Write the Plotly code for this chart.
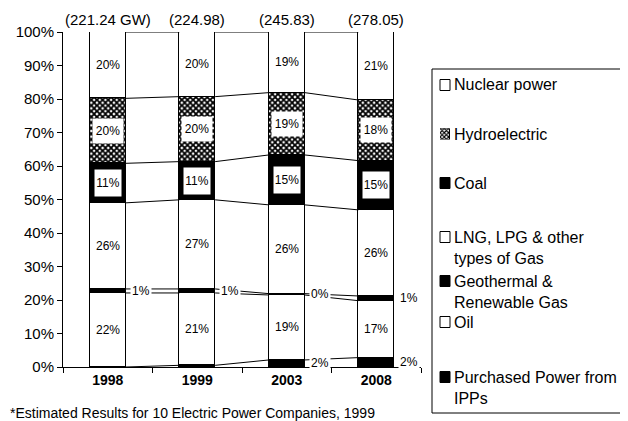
import plotly.graph_objects as go

# The page body has an 8px margin, so the figure is drawn 8px in from the window corner.
OFF = 8
W, H = 628 - OFF, 421 - OFF
FONT = "Liberation Sans, Arial, sans-serif"

years = ["1998", "1999", "2003", "2008"]
totals = ["(221.24 GW)", "(224.98)", "(245.83)", "(278.05)"]
y_ticks = list(range(0, 101, 10))
y_tick_labels = ["%d%%" % v for v in y_ticks]

# shares (%), bottom to top
ipp = [0.0, 0.5, 2.1, 2.8]
oil = [22.1, 21.6, 19.4, 17.0]
geo = [1.2, 1.2, 0.4, 1.4]
lng = [25.7, 26.6, 26.5, 25.7]
coal = [11.8, 11.4, 14.9, 14.7]
hydro = [19.4, 19.4, 18.6, 18.1]
nuclear = [19.8, 19.3, 18.1, 20.3]

ipp_lbl = ["", "", "2%", "2%"]
oil_lbl = ["22%", "21%", "19%", "17%"]
geo_lbl = ["1%", "1%", "0%", "1%"]
lng_lbl = ["26%", "27%", "26%", "26%"]
coal_lbl = ["11%", "11%", "15%", "15%"]
hydro_lbl = ["20%", "20%", "19%", "18%"]
nuclear_lbl = ["20%", "20%", "19%", "21%"]

HATCH = dict(shape="x", fgcolor="black", bgcolor="white", size=4, solidity=0.7)

series = [
    ("Purchased Power from IPPs", ipp, "black", None),
    ("Oil", oil, "white", None),
    ("Geothermal & Renewable Gas", geo, "black", None),
    ("LNG, LPG & other types of Gas", lng, "white", None),
    ("Coal", coal, "black", None),
    ("Hydroelectric", hydro, "white", HATCH),
    ("Nuclear power", nuclear, "white", None),
]

xs = list(range(len(years)))
BW = 0.4

# convert window pixel positions (as measured on the reference) to paper fractions
def px_x(p):
    return (p - OFF) / W

def px_y(p):
    return 1 - (p - OFF) / H

PL, PR, PT, PB = 63, 421, 32, 367

fig = go.Figure()

cum = [[0.0] * len(xs)]
for name, vals, color, pat in series:
    base = cum[-1]
    marker = dict(color=color, line=dict(color="black", width=1))
    if pat:
        marker["pattern"] = pat
    fig.add_trace(go.Bar(x=xs, y=vals, name=name, width=BW, marker=marker,
                         showlegend=False, hoverinfo="skip"))
    cum.append([b + v for b, v in zip(base, vals)])

# connector lines between bars at each boundary
for level in cum[1:]:
    lx, ly = [], []
    for i in range(len(xs) - 1):
        lx += [xs[i] + BW / 2, xs[i + 1] - BW / 2, None]
        ly += [level[i], level[i + 1], None]
    fig.add_trace(go.Scatter(x=lx, y=ly, mode="lines", line=dict(color="black", width=1),
                             showlegend=False, hoverinfo="skip"))

ann = []
def seg_mid(k, i):
    return cum[k][i] + series[k][1][i] / 2

lblfont = dict(family=FONT, size=12, color="black")
for i in xs:
    for k, labels in [(6, nuclear_lbl), (3, lng_lbl), (1, oil_lbl)]:
        ann.append(dict(x=i, y=seg_mid(k, i), xref="x", yref="y", text=labels[i],
                        showarrow=False, font=lblfont))
    ann.append(dict(x=i, y=seg_mid(5, i), xref="x", yref="y", text=hydro_lbl[i],
                    showarrow=False, font=lblfont, bgcolor="white", width=30, height=24, borderpad=0))
    ann.append(dict(x=i, y=seg_mid(4, i), xref="x", yref="y", text=coal_lbl[i],
                    showarrow=False, font=lblfont, bgcolor="white", width=26, height=26, borderpad=0))
    ann.append(dict(x=i + BW / 2, y=seg_mid(2, i), xref="x", yref="y", text=geo_lbl[i],
                    xanchor="left", xshift=4, showarrow=False, font=lblfont, bgcolor="white"))
    if ipp_lbl[i]:
        ann.append(dict(x=i + BW / 2, y=seg_mid(0, i), xref="x", yref="y", text=ipp_lbl[i],
                        xanchor="left", xshift=4, showarrow=False, font=lblfont, bgcolor="white"))
    ann.append(dict(x=i, y=100, xref="x", yref="y", text=totals[i], yanchor="middle", yshift=13,
                    showarrow=False, font=dict(family=FONT, size=15, color="black")))

ann.append(dict(x=0, y=px_y(413), xref="paper", yref="paper", xanchor="left", yanchor="middle",
                text="*Estimated Results for 10 Electric Power Companies, 1999", showarrow=False,
                font=dict(family=FONT, size=14, color="black")))

# manual legend
shapes = [dict(type="rect", xref="paper", yref="paper", x0=px_x(432), x1=px_x(660),
               y0=px_y(413), y1=px_y(69), line=dict(color="black", width=1), fillcolor="rgba(0,0,0,0)")]
leg_items = [
    ("Nuclear power", 85, "white", []),
    ("Hydroelectric", 134, "hatch", []),
    ("Coal", 183, "black", []),
    ("LNG, LPG & other", 237, "white", ["types of Gas"]),
    ("Geothermal &", 281, "black", ["Renewable Gas"]),
    ("Oil", 322, "white", []),
    ("Purchased Power from", 377, "black", ["IPPs"]),
]
legfont = dict(family=FONT, size=16, color="black")
TX = 452
for text, yc, sw, extra in leg_items:
    if sw != "hatch":
        shapes.append(dict(type="rect", xref="paper", yref="paper", x0=px_x(440), x1=px_x(450),
                           y0=px_y(yc + 5.5), y1=px_y(yc - 5.5), fillcolor=sw,
                           line=dict(color="black", width=1)))
    ann.append(dict(x=px_x(TX), y=px_y(yc), xref="paper", yref="paper", xanchor="left",
                    yanchor="middle", text=text, showarrow=False, font=legfont))
    for j, t in enumerate(extra):
        ann.append(dict(x=px_x(TX), y=px_y(yc + 21 * (j + 1)), xref="paper", yref="paper",
                        xanchor="left", yanchor="middle", text=t, showarrow=False, font=legfont))

fig.add_trace(go.Bar(x=[0], y=[1], xaxis="x2", yaxis="y2", width=1, showlegend=False, hoverinfo="skip",
                     marker=dict(color="white", line=dict(color="black", width=1),
                                 pattern=dict(shape="x", fgcolor="black", bgcolor="white", size=3, solidity=0.6))))

fig.update_layout(
    width=W, height=H, template="none",
    margin=dict(l=0, r=0, t=0, b=0),
    paper_bgcolor="white", plot_bgcolor="white",
    barmode="stack", bargap=0,
    showlegend=False,
    font=dict(family=FONT, color="black"),
    annotations=ann, shapes=shapes,
    xaxis=dict(domain=[px_x(PL), px_x(PR)], range=[-0.5, 3.5], tickvals=xs,
               ticktext=["<b>%s</b>" % y for y in years], ticks="", showgrid=False,
               zeroline=False, showline=True, linecolor="black", linewidth=1,
               tickfont=dict(family=FONT, size=14, color="black"),
               minor=dict(tick0=0.5, dtick=1, ticks="outside", ticklen=5, tickcolor="black", showgrid=False),
               automargin=False, fixedrange=True),
    yaxis=dict(domain=[px_y(PB), px_y(PT)], range=[0, 100], tickmode="array", tickvals=y_ticks,
               ticktext=y_tick_labels, ticks="outside", ticklen=5, tickcolor="black", showgrid=False,
               zeroline=False, showline=True, linecolor="black", linewidth=1,
               tickfont=dict(family=FONT, size=15, color="black"), automargin=False, fixedrange=True),
    xaxis2=dict(domain=[px_x(440), px_x(450)], range=[-0.5, 0.5], visible=False, anchor="y2", fixedrange=True),
    yaxis2=dict(domain=[px_y(139.5), px_y(128.5)], range=[0, 1], visible=False, anchor="x2", fixedrange=True),
)

fig.write_html("out.html")
